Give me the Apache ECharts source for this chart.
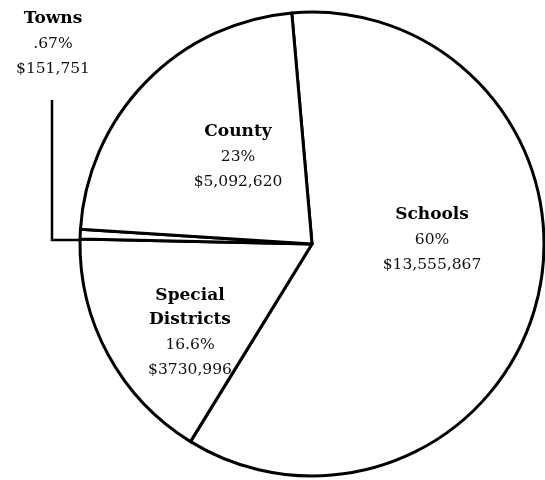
<!DOCTYPE html>
<html>
<head>
<meta charset="utf-8">
<script src="https://cdn.jsdelivr.net/npm/echarts@6/dist/echarts.min.js"></script>
<style>
  html, body { margin: 0; padding: 0; background: #fff; }
  #pieChart { width: 545px; height: 480px; }
</style>
</head>
<body>
<div id="pieChart"></div>
<script>
// values
var names = ['Schools', 'Special\nDistricts', 'Towns', 'County'];
var amounts = [13555867, 3730996, 151751, 5092620];
var pctLabels = ['60%', '16.6%', '.67%', '23%'];
var amountLabels = ['$13,555,867', '$3730,996', '$151,751', '$5,092,620'];

// where each label sits (center of the text block)
var labelX = [432, 190, 53, 238];
var labelY = [240, 333, 44, 157];

var chart = echarts.init(document.getElementById('pieChart'));

var pieData = amounts.map(function (v, i) {
  var item = { value: v, name: names[i] };
  if (names[i] === 'Towns') {
    item.label = { position: 'outside', overflow: 'none' };
    item.labelLine = { show: true, lineStyle: { color: '#000', width: 2.5 } };
  }
  return item;
});

chart.setOption({
  backgroundColor: '#fff',
  animation: false,
  series: [{
    type: 'pie',
    center: [312, 244],
    radius: 232,
    startAngle: 95,
    clockwise: true,
    data: pieData,
    itemStyle: {
      color: '#fff',
      borderColor: '#000',
      borderWidth: 3
    },
    emphasis: { disabled: true },
    label: {
      show: true,
      position: 'inside',
      color: '#000',
      overflow: 'none',
      formatter: function (p) {
        var i = p.dataIndex;
        var title = names[i].split('\n').map(function (s) { return '{t|' + s + '}'; }).join('\n');
        return title + '\n{v|' + pctLabels[i] + '}\n{v|' + amountLabels[i] + '}';
      },
      rich: {
        t: { fontFamily: 'DejaVu Serif', fontWeight: 'bold', fontSize: 17, color: '#000', lineHeight: 24 },
        v: { fontFamily: 'DejaVu Serif', fontSize: 15.5, color: '#111', lineHeight: 25 }
      }
    },
    labelLine: { show: false },
    labelLayout: function (params) {
      var i = params.dataIndex;
      var out = {
        x: labelX[i],
        y: labelY[i],
        align: 'center',
        verticalAlign: 'middle'
      };
      if (names[i] === 'Towns') {
        out.labelLinePoints = [[102, 240], [52, 240], [52, 100]];
      }
      return out;
    }
  }]
});
</script>
</body>
</html>
